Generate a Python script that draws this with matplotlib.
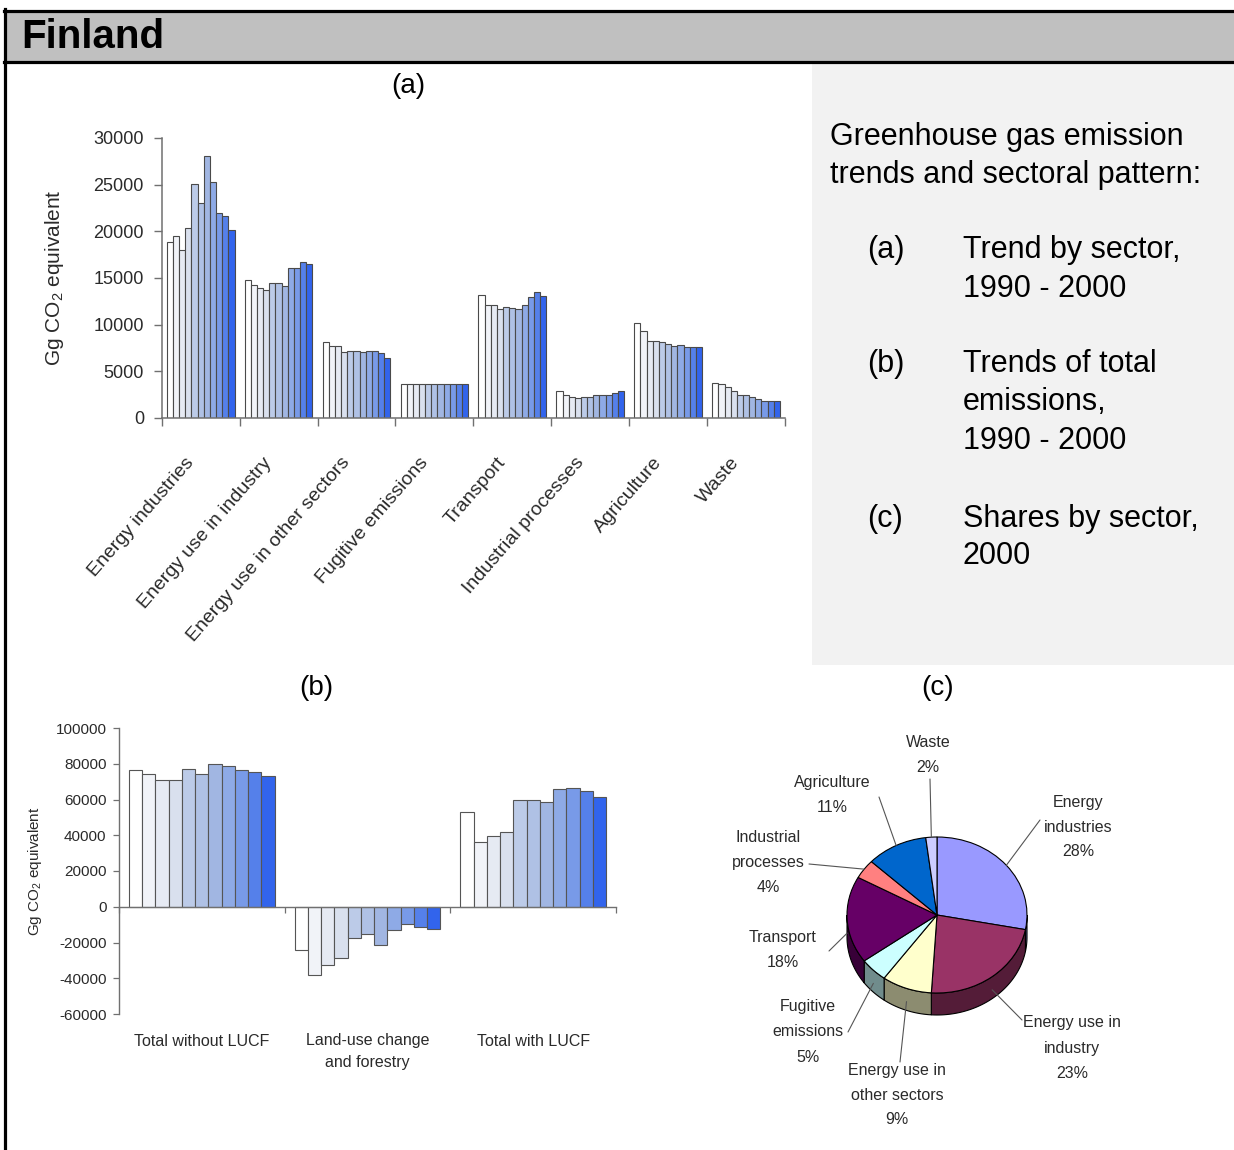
import numpy as np
import matplotlib
matplotlib.use("Agg")
import matplotlib.pyplot as plt
import matplotlib.colors as mcolors
import matplotlib.transforms as mtransforms
from matplotlib.patches import Polygon, Rectangle
from matplotlib.lines import Line2D

plt.rcParams['font.family'] = ['Liberation Sans', 'DejaVu Sans']
plt.rcParams['mathtext.fontset'] = 'custom'
plt.rcParams['mathtext.rm'] = 'Liberation Sans'
plt.rcParams['mathtext.it'] = 'Liberation Sans:italic'
plt.rcParams['axes.unicode_minus'] = False

W, H = 1234, 1150

# ---- data -------------------------------------------------------------
years = [1990, 1991, 1992, 1993, 1994, 1995, 1996, 1997, 1998, 1999, 2000]
year_colors = ['#ffffff', '#f1f3f8', '#e6eaf3', '#d9e0ee', '#bccbe8', '#afc1e5',
               '#a1b6e2', '#8eaae6', '#789ae8', '#5580ea', '#3264ec']

sectors = ["Energy industries", "Energy use in industry", "Energy use in other sectors",
           "Fugitive emissions", "Transport", "Industrial processes", "Agriculture", "Waste"]

energy_industries = [18900, 19500, 18000, 20400, 25100, 23000, 28100, 25300, 22000, 21600, 20100]
energy_use_industry = [14750, 14300, 13900, 13700, 14500, 14500, 14100, 16100, 16100, 16700, 16500]
energy_use_other = [8100, 7700, 7700, 7100, 7200, 7200, 7100, 7200, 7200, 7000, 6400]
fugitive_emissions = [3600, 3600, 3600, 3600, 3600, 3600, 3600, 3600, 3600, 3600, 3600]
transport = [13200, 12100, 12100, 11700, 11900, 11800, 11700, 12100, 13000, 13500, 13100]
industrial_processes = [2900, 2500, 2300, 2100, 2300, 2300, 2500, 2500, 2500, 2700, 2900]
agriculture = [10200, 9300, 8300, 8300, 8100, 7900, 7700, 7800, 7600, 7600, 7600]
waste = [3800, 3600, 3300, 2900, 2500, 2500, 2300, 2000, 1800, 1800, 1800]
sector_series = [energy_industries, energy_use_industry, energy_use_other, fugitive_emissions,
                 transport, industrial_processes, agriculture, waste]

total_groups = ["Total without LUCF", "Land-use change\nand forestry", "Total with LUCF"]
total_without_lucf = [76300, 74100, 70800, 70800, 77100, 74100, 80100, 79000, 76300, 75400, 73200]
lucf = [-24200, -38200, -32600, -28900, -17700, -15500, -21400, -13000, -9900, -11500, -12500]
total_with_lucf = [53100, 36300, 39500, 41700, 59600, 59600, 58500, 66100, 66500, 64600, 61500]
total_series = [total_without_lucf, lucf, total_with_lucf]

pie_names = ["Energy\nindustries", "Energy use in\nindustry", "Energy use in\nother sectors",
             "Fugitive\nemissions", "Transport", "Industrial\nprocesses", "Agriculture", "Waste"]
pie_shares = [28, 23, 9, 5, 18, 4, 11, 2]
pie_colors = ['#9999ff', '#993366', '#ffffcc', '#ccffff', '#660066', '#ff8080', '#0066cc', '#ccccff']

# label layout for the pie (pixel positions, top-left origin)
pie_label_pos = [(1078, 827), (1072, 1048), (897, 1095), (808, 1032),
                 (783, 950), (768, 863), (832, 795), (928, 755)]
pie_leader_start = [(1040, 820), (1022, 1020), (900, 1062), (848, 1032),
                    (829, 951), (809, 864), (879, 797), (930, 779)]


def fx(x):
    return x / W


def fy(y):
    return 1 - y / H


def text_lines(x, y_center, txt, step, **kw):
    # place each line by hand so the spacing matches the reference
    lines = txt.split("\n")
    y0 = y_center - step * (len(lines) - 1) / 2
    for i, ln in enumerate(lines):
        fig.text(fx(x), fy(y0 + i * step), ln, ha='center', va='center', **kw)


fig = plt.figure(figsize=(W / 100, H / 100), dpi=100)
fig.patch.set_facecolor('white')

# ---- frame, header, side panel ---------------------------------------
fig.add_artist(Rectangle((fx(5), fy(62)), fx(1234) - fx(5), 52 / H, transform=fig.transFigure,
                         facecolor='#c0c0c0', edgecolor='none'))
fig.add_artist(Rectangle((fx(812), fy(665)), fx(1234) - fx(812), 601 / H, transform=fig.transFigure,
                         facecolor='#f2f2f2', edgecolor='none'))
for (x0, y0, x1, y1) in [(4, 10.5, 1234, 10.5), (4, 62, 1234, 62), (5, 9, 5, 1150)]:
    fig.add_artist(Line2D([fx(x0), fx(x1)], [fy(y0), fy(y1)], transform=fig.transFigure,
                          color='black', lw=2.3))
fig.text(fx(21), fy(37), "Finland", fontsize=29, fontweight='bold', va='center', ha='left')

fig.text(fx(408), fy(86), "(a)", fontsize=20, ha='center', va='center')
fig.text(fx(316), fy(688), "(b)", fontsize=20, ha='center', va='center')
fig.text(fx(938), fy(688), "(c)", fontsize=20, ha='center', va='center')

side = [(830, 145, "Greenhouse gas emission"), (830, 182.7, "trends and sectoral pattern:"),
        (866.7, 258, "(a)"), (963, 258, "Trend by sector,"), (963, 296.7, "1990 - 2000"),
        (866.7, 371.7, "(b)"), (963, 371.7, "Trends of total"), (963, 410, "emissions,"),
        (963, 449, "1990 - 2000"),
        (866.7, 526.7, "(c)"), (963, 526.7, "Shares by sector,"), (963, 564, "2000")]
for x, y, s in side:
    fig.text(fx(x), fy(y), s, fontsize=22, ha='left', va='baseline')

axis_grey = '#707070'
label_grey = '#2a2a2a'

# ---- (a) trend by sector ----------------------------------------------
ax = fig.add_axes([fx(161.7), fy(418), (785 - 161.7) / W, (418 - 138) / H])
bw = 0.079
for g, series in enumerate(sector_series):
    for j, v in enumerate(series):
        ax.bar(g + 0.5 + (j - 5) * bw, v, width=bw, color=year_colors[j],
               edgecolor='#4a4a4a', linewidth=0.8)
ax.set_xlim(0, len(sectors))
ax.set_ylim(0, 30000)
ax.set_yticks([0, 5000, 10000, 15000, 20000, 25000, 30000])
ax.set_xticks(range(len(sectors) + 1))
ax.set_xticklabels([])
ax.tick_params(axis='y', length=5.8, width=1.0, color=axis_grey, labelsize=13,
               labelcolor=label_grey, pad=7)
ax.tick_params(axis='x', length=5.8, width=1.0, color=axis_grey)
for s in ['top', 'right']:
    ax.spines[s].set_visible(False)
for s in ['left', 'bottom']:
    ax.spines[s].set_color(axis_grey)
    ax.spines[s].set_linewidth(1.1)
ax.set_ylabel("Gg CO$_2$ equivalent", fontsize=15, color=label_grey, labelpad=20)
tr = mtransforms.blended_transform_factory(ax.transData, ax.transAxes)
for g, name in enumerate(sectors):
    ax.text(g + 0.5 - 0.12, -0.15, name, transform=tr, rotation=49, ha='right', va='center',
            rotation_mode='anchor', fontsize=14, color=label_grey)

# ---- (b) total emissions ----------------------------------------------
bx = fig.add_axes([fx(119), fy(1014), (616 - 119) / W, (1014 - 728) / H])
bw2 = 0.08
for g, series in enumerate(total_series):
    for j, v in enumerate(series):
        bx.bar(g + 0.5 + (j - 5) * bw2, v, width=bw2, color=year_colors[j],
               edgecolor='#555555', linewidth=0.8)
bx.set_xlim(0, len(total_groups))
bx.set_ylim(-60000, 100000)
bx.set_yticks(list(range(-60000, 100001, 20000)))
bx.set_xticks(range(len(total_groups) + 1))
bx.set_xticklabels([])
bx.spines['bottom'].set_position(('data', 0))
for s in ['top', 'right']:
    bx.spines[s].set_visible(False)
for s in ['left', 'bottom']:
    bx.spines[s].set_color(axis_grey)
    bx.spines[s].set_linewidth(1.0)
bx.tick_params(axis='y', length=4, width=0.9, color=axis_grey, labelsize=11,
               labelcolor=label_grey, pad=5)
bx.tick_params(axis='x', length=4, width=0.9, color=axis_grey)
bx.set_ylabel("Gg CO$_2$ equivalent", fontsize=11, color=label_grey, labelpad=8)
for g, name in enumerate(total_groups):
    xc = 119 + (g + 0.5) * (616 - 119) / len(total_groups)
    text_lines(xc, 1041 + 10.5 * (name.count("\n")), name, 21, fontsize=11.5, color=label_grey)

# ---- (c) shares by sector (3-D look pie) -------------------------------
cx, cy, rx, ry = 937, 915, 90, 78
depth = 22 / ry
px = fig.add_axes([fx(cx - 1.5 * rx), fy(cy + 1.5 * ry), 3 * rx / W, 3 * ry / H])
wedges, _ = px.pie(pie_shares, colors=pie_colors, startangle=90, counterclock=False, radius=1,
                   wedgeprops=dict(edgecolor='black', linewidth=0.8, zorder=3))
px.set_aspect('auto')
px.set_xlim(-1.5, 1.5)
px.set_ylim(-1.5, 1.5)
px.axis('off')
for w, c in zip(wedges, pie_colors):
    a1, a2 = max(w.theta1, -180), min(w.theta2, 0)
    if a2 <= a1:
        continue
    t = np.radians(np.linspace(a1, a2, 80))
    rim = np.column_stack([np.cos(t), np.sin(t)])
    band = np.vstack([rim, rim[::-1] - [0, depth]])
    dark = tuple(np.array(mcolors.to_rgb(c)) * 0.55)
    px.add_patch(Polygon(band, closed=True, facecolor=dark, edgecolor='black', lw=0.8, zorder=2))

for w, name, share, (lx, ly), (sx, sy) in zip(wedges, pie_names, pie_shares,
                                               pie_label_pos, pie_leader_start):
    m = np.radians((w.theta1 + w.theta2) / 2)
    ex, ey = np.cos(m), np.sin(m)
    if ey < 0:
        ey -= depth * 0.6
    px.annotate('', xy=(ex, ey), xycoords='data', xytext=(fx(sx), fy(sy)),
                textcoords='figure fraction', annotation_clip=False,
                arrowprops=dict(arrowstyle='-', color='#555555', lw=0.8, shrinkA=0, shrinkB=0))
    text_lines(lx, ly, "%s\n%d%%" % (name, share), 25, fontsize=11.5, color=label_grey)

fig.savefig("out.png", dpi=100)
